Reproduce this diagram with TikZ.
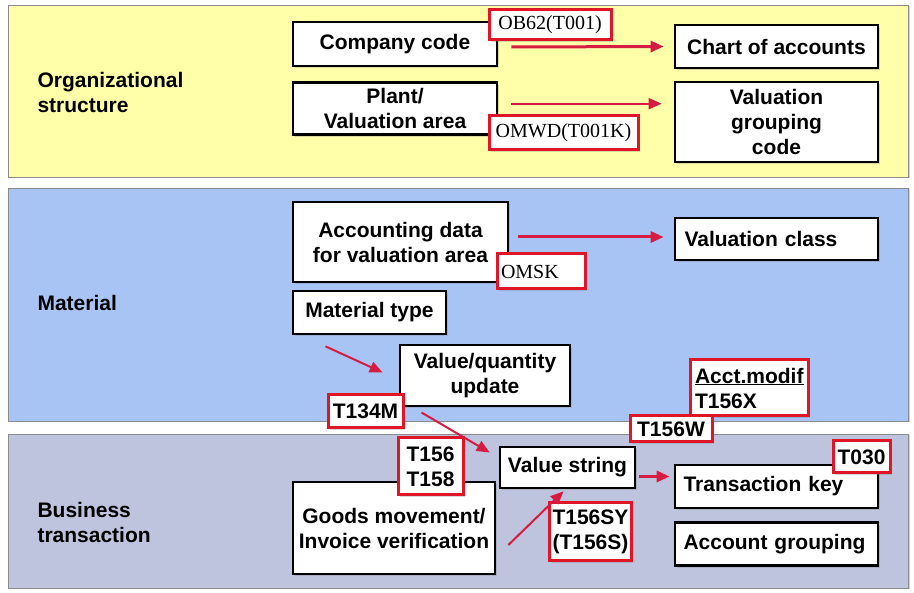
\documentclass[tikz,border=0pt]{standalone}
\usepackage{fontspec}
\setmainfont{Liberation Sans}
\newfontfamily\codefont{Liberation Serif}
\usetikzlibrary{arrows.meta,positioning,shadows}

\definecolor{orgyellow}{RGB}{255,255,170}
\definecolor{matblue}{RGB}{168,196,244}
\definecolor{trangray}{RGB}{190,196,222}
\definecolor{tabred}{RGB}{222,22,40}
\definecolor{arrred}{RGB}{214,28,64}

\begin{document}
\begin{tikzpicture}[
        x=1pt, y=-1pt,
        font=\fontsize{21}{25}\selectfont\bfseries,
        band/.style={
            draw=black!45, line width=0.6pt,
            drop shadow={shadow xshift=1.5pt,shadow yshift=-1.5pt,opacity=0.35}
        },
        obj/.style={
            draw, line width=2.7pt, fill=white, align=center,
            inner sep=3pt, text=black,
            drop shadow={shadow xshift=2pt,shadow yshift=-2pt,opacity=0.3}
        },
        tab/.style={
            draw=tabred, line width=3pt, fill=white, align=left,
            inner sep=3pt, text=black,
            drop shadow={shadow xshift=2pt,shadow yshift=-2pt,opacity=0.3}
        },
        code/.style={tab, font=\fontsize{20}{25}\selectfont\codefont},
        arr/.style={
            draw=arrred, line width=3pt,
            -{Triangle[length=13pt,width=11pt]}
        }
      ]

  \useasboundingbox (0,0) rectangle (914,593);

  % the three areas
  \fill[orgyellow,band] (8,5) rectangle (908,177);
  \fill[matblue,band] (8,188) rectangle (908,421);
  \fill[trangray,band] (8,434) rectangle (908,588);

  \node (lorg) [anchor=west,align=left] at (34,92) {Organizational\\structure};
  \node (lmat) [anchor=west] at (34,303) {Material};
  \node (lbus) [anchor=west,align=left] at (34,522) {Business\\transaction};

  % organizational structure
  \node (comp) [obj,minimum width=204pt,minimum height=44pt] at (395,44) {Company code};
  \node (plant) [obj,below=14pt of comp,minimum width=204pt,minimum height=52pt] {Plant/\\Valuation area};
  \node (chart) [obj,minimum width=203pt,minimum height=43pt] at (776.5,46.5) {Chart of accounts};
  \node (valgrp) [obj,minimum width=203pt,minimum height=80pt] at (776.5,122) {Valuation\\grouping\\code};

  % material
  \node (acct) [obj,minimum width=215pt,minimum height=80pt] at (400.5,242) {Accounting data\\for valuation area};
  \node (valcls) [obj,minimum width=203pt,minimum height=42pt,text width=184pt,align=left] at (776.5,239) {Valuation class};
  \node (mtype) [obj,minimum width=153pt,minimum height=43pt] at (369.5,312.5) {Material type};
  \node (vqu) [obj,minimum width=170pt,minimum height=61pt] at (485,375.5) {Value/quantity\\update};

  % business transaction
  \node (vstr) [obj,minimum width=135pt,minimum height=41pt] at (567.5,467.5) {Value string};
  \node (tkey) [obj,minimum width=203pt,minimum height=43pt,text width=186pt,align=left] at (776.5,486.5) {Transaction key};
  \node (agrp) [obj,below=12pt of tkey,minimum width=203pt,minimum height=43pt,text width=186pt,align=left] {Account grouping};
  \node (goods) [obj,minimum width=202pt,minimum height=92pt] at (394,528) {Goods movement/\\Invoice verification};

  % tables and transactions
  \node (ob62) [code,minimum width=122pt,minimum height=30pt,align=center] at (550,25) {OB62(T001)};
  \node (omwd) [code,minimum width=149pt,minimum height=34pt,align=center] at (563.5,133) {OMWD(T001K)};
  \node (omsk) [code,minimum width=88pt,minimum height=35pt,text width=80pt] at (541,271.5) {OMSK};
  \node (acctmod) [tab,minimum width=118pt,minimum height=56pt,text width=108pt] at (749,388) {\underline{Acct.modif}\\T156X};
  \node (t134m) [tab,minimum width=75pt,minimum height=33pt,align=center] at (365.5,411.5) {T134M};
  \node (t156w) [tab,minimum width=82pt,minimum height=26pt,align=center] at (671,429) {T156W};
  \node (t156) [tab,minimum width=65pt,minimum height=57pt,align=center] at (430.5,466.5) {T156\\T158};
  \node (t030) [tab,minimum width=57pt,minimum height=32pt,align=center] at (861.5,457) {T030};
  \node (t156sy) [tab,minimum width=69pt,minimum height=58pt,align=left] at (590.5,532) {T156SY\\(T156S)};

  % connections
  \draw[arr] ([xshift=13pt,yshift=-3pt]comp.east) -- ([xshift=-10pt]chart.west);
  \draw[arr,line width=2pt] ([xshift=13pt,yshift=5pt]plant.east) -- ([xshift=-12pt,yshift=5pt]plant.east -| valgrp.west);
  \draw[arr] ([xshift=9pt,yshift=5pt]acct.east) -- ([xshift=-10pt,yshift=2pt]valcls.west);
  \draw[arr,line width=2pt] ([xshift=-44pt,yshift=-11pt]mtype.south) -- ([xshift=-16pt,yshift=3pt]vqu.west);
  \draw[arr,line width=2pt] ([xshift=17pt,yshift=-1pt]t134m.east) -- ([xshift=-9pt,yshift=15pt]vstr.west);
  \draw[arr,line width=2pt] ([xshift=12pt,yshift=-17pt]goods.east) -- ([xshift=-4pt,yshift=-2pt]vstr.south);
  \draw[arr] ([xshift=3pt,yshift=-9pt]vstr.east) -- ([xshift=-4pt,yshift=10pt]tkey.west);

\end{tikzpicture}
\end{document}
